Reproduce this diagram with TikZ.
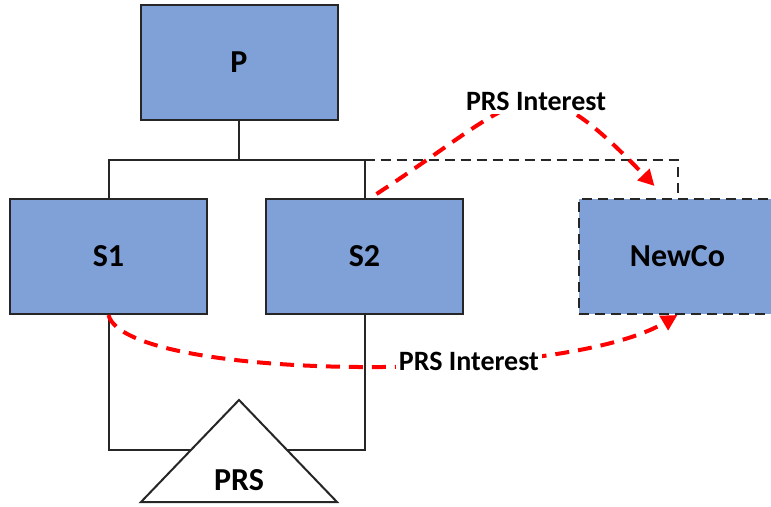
\documentclass[tikz,border=0pt]{standalone}
\usepackage{fontspec}
\setmainfont{Carlito}
\usetikzlibrary{arrows.meta,calc}
\definecolor{boxblue}{RGB}{127,161,215}
\definecolor{edgegray}{RGB}{38,38,38}

\begin{document}
\begin{tikzpicture}[x=0.5pt,y=-0.5pt,
    entity/.style={draw=edgegray, line width=1pt, fill=boxblue,
      minimum width=98.5pt, minimum height=57.5pt, inner sep=0pt,
      font=\fontsize{16}{19}\selectfont\bfseries},
    own/.style={draw=edgegray, line width=1pt},
    interest/.style={red, line width=2pt, dash pattern=on 7pt off 4.5pt,
      -{Triangle[length=8pt,width=8pt]}},
    tag/.style={fill=white, text=black, inner sep=1.5pt,
      font=\fontsize{14}{17}\selectfont\bfseries}]
  \useasboundingbox (0,0) rectangle (771,507);

  % ownership tree
  \coordinate (bus) at (239,160);
  \coordinate (base) at (239,450);

  \node[entity] (p) at (239,62.5) {P};
  \node[entity] (s1) at (108.5,256.5) {S1};
  \node[entity] (s2) at (364.5,256.5) {S2};
  \node[entity, dash pattern=on 5pt off 3pt] (newco) at (677.5,256.5) {NewCo};

  \draw[own] (p.south) -- (bus);
  \draw[own] (s1.north) |- (bus) -| (s2.north);
  \draw[own, dash pattern=on 5pt off 3pt] (s2.north |- bus) -| (newco.north);

  \draw[own] (s1.south) |- (base) -| (s2.south);

  % partnership
  \filldraw[own, fill=white] (239,400) -- (337,502) -- (141,502) -- cycle;
  \node[font=\fontsize{16}{19}\selectfont\bfseries] (prs) at (239,480) {PRS};

  % interests moved to NewCo
  \draw[interest] ([shift={(12,-4)}]s2.north)
    .. controls +(152,-99) and +(-125,-130) .. ([shift={(-23,-12)}]newco.north)
    node[tag, pos=0.55, yshift=1pt] (up) {PRS Interest};
  \draw[interest] (s1.south)
    .. controls +(17,66) and +(-118,70) .. (newco.south)
    node[tag, pos=0.65] (down) {PRS Interest};
\end{tikzpicture}
\end{document}
